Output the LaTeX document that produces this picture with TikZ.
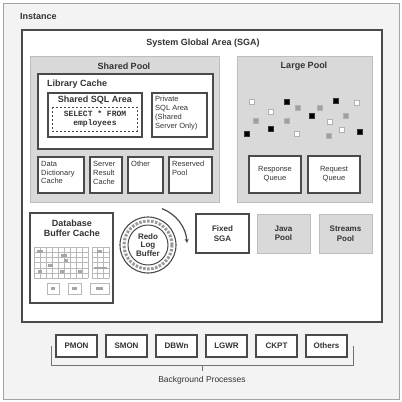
\documentclass[tikz,border=0pt]{standalone}
\usepackage{fontspec}
\setmainfont{Liberation Sans}
\setmonofont{Liberation Mono}
\usetikzlibrary{arrows.meta}

\definecolor{ink}{HTML}{333333}
\definecolor{frameline}{HTML}{4a4a4a}
\definecolor{poolfill}{HTML}{d9d9d9}
\definecolor{poolline}{HTML}{bdbdbd}
\definecolor{instfill}{HTML}{f3f3f3}
\definecolor{instline}{HTML}{a3a3a3}
\definecolor{gridline}{HTML}{b8b8b8}

\begin{document}
\begin{tikzpicture}[x=1pt,y=-1pt,
  area/.style={anchor=north west, inner sep=0pt, outer sep=0pt},
  box/.style={area, draw=frameline, line width=1.6pt, fill=white},
  poolbox/.style={area, draw=poolline, line width=1pt, fill=poolfill},
  ttl/.style={font=\fontsize{9}{10}\selectfont\bfseries, text=ink, inner sep=0pt, align=center},
  small/.style={font=\fontsize{7.5}{8.8}\selectfont, text=ink, inner sep=0pt, align=left},
  proc/.style={area, draw=frameline, line width=1.6pt, fill=white,
    minimum width=41pt, minimum height=22pt, anchor=north west,
    font=\fontsize{8}{9}\selectfont\bfseries, text=ink},
  sqw/.style={fill=white, draw=gray!60, line width=0.5pt},
  sqb/.style={fill=black, draw=black!80, line width=0.5pt},
  sqg/.style={fill=gray!75, draw=gray!60, line width=0.5pt}
]
\useasboundingbox (0,0) rectangle (402,402);
\fill[white] (0,0) rectangle (402,402);

% Instance frame
\node[area, draw=instline, line width=1pt, fill=instfill,
  minimum width=396pt, minimum height=396pt] (instance) at (3,3) {};
\node[ttl, anchor=west] (instlabel) at (20,16) {Instance};

% System Global Area
\node[area, draw=frameline, line width=2pt, fill=white,
  minimum width=360pt, minimum height=292pt] (sga) at (22,30) {};
\node[ttl] (sgalabel) at (203,43) {System Global Area (SGA)};

% Shared pool
\node[poolbox, minimum width=189pt, minimum height=146pt] (shared) at (30,56) {};
\node[ttl] (sharedlabel) at (124,66) {Shared Pool};

\node[box, line width=1.5pt, minimum width=175pt, minimum height=75pt] (libcache) at (38,74) {};
\node[ttl, anchor=west] (liblabel) at (47,84) {Library Cache};

\node[box, line width=1.5pt, minimum width=94pt, minimum height=44pt] (sqlarea) at (48,93) {};
\node[ttl] (sqllabel) at (95,100) {Shared SQL Area};
\draw[frameline, line width=0.8pt, dash pattern=on 2pt off 2pt]
  (52,107) rectangle (137,131);
\node[font=\fontsize{8}{9.5}\selectfont\ttfamily\bfseries, text=ink, align=center, inner sep=0pt]
  (sqltext) at (95,119) {SELECT * FROM\\employees};

\node[box, line width=1.5pt, minimum width=55pt, minimum height=44pt] (private) at (152,93) {};
\node[small, anchor=north west] (privlabel) at (155,96) {Private\\SQL Area\\(Shared\\Server Only)};

% Lower row of the shared pool
\node[box, line width=1.5pt, minimum width=46pt, minimum height=36pt] (dict) at (38,157) {};
\node[small, anchor=north west] at (41,161) {Data\\Dictionary\\Cache};
\node[box, line width=1.5pt, minimum width=32pt, minimum height=36pt] (result) at (90,157) {};
\node[small, anchor=north west] at (93,161) {Server\\Result\\Cache};
\node[box, line width=1.5pt, minimum width=35pt, minimum height=36pt] (other) at (128,157) {};
\node[small, anchor=north west] at (131,161) {Other};
\node[box, line width=1.5pt, minimum width=43pt, minimum height=36pt] (reserved) at (169,157) {};
\node[small, anchor=north west] at (172,161) {Reserved\\Pool};

% Large pool
\node[poolbox, minimum width=135pt, minimum height=146pt] (large) at (237,56) {};
\node[ttl] (largelabel) at (304,66) {Large Pool};
\foreach \px/\py/\st in {252/102/sqw, 287/102/sqb, 298/108/sqg, 271/112/sqw, 320/108/sqg,
  336/101/sqb, 357/103/sqw, 256/121/sqg, 287/121/sqg, 312/116/sqb, 346/116/sqg,
  330/122/sqw, 271/129/sqb, 342/130/sqw, 360/132/sqb, 247/134/sqb, 297/134/sqw, 329/136/sqg}
  \draw[\st] (\px-2.5,\py-2.5) rectangle (\px+2.5,\py+2.5);

\node[box, line width=1.5pt, minimum width=52pt, minimum height=37pt] (response) at (249,156) {};
\node[small, align=center] at (response.center) {Response\\Queue};
\node[box, line width=1.5pt, minimum width=52pt, minimum height=37pt] (request) at (308,156) {};
\node[small, align=center] at (request.center) {Request\\Queue};

% Database buffer cache
\node[box, line width=1.5pt, minimum width=83pt, minimum height=90pt] (buffer) at (30,213) {};
\node[ttl] (bufferlabel) at (72,228) {Database\\Buffer Cache};
\begin{scope}[gridline, line width=0.5pt]
  \foreach \gx in {34,40,46,52,58,64,70,76,82,88} \draw (\gx,247) -- (\gx,278);
  \foreach \gy in {247,252,257,262,268,273,278} \draw (34,\gy) -- (88,\gy);
  \foreach \gx in {92,97,103,109} \draw (\gx,247) -- (\gx,278);
  \foreach \gy in {247,252,257,262,268,273,278} \draw (92,\gy) -- (109,\gy);
  \draw (47,283) rectangle (59,294);
  \draw (68,283) rectangle (81,294);
  \draw (90,283) rectangle (109,294);
\end{scope}
\begin{scope}[gray!70]
  \fill (37,250) rectangle (43,253);
  \fill (61,254) rectangle (67,257);
  \fill (64,259) rectangle (68,262);
  \fill (48,264) rectangle (53,267);
  \fill (38,270) rectangle (42,273);
  \fill (60,270) rectangle (64,273);
  \fill (78,270) rectangle (82,273);
  \fill (97,250) rectangle (102,253);
  \fill (94,267) rectangle (107,269);
  \fill (51,287) rectangle (55,290);
  \fill (72,287) rectangle (77,290);
  \fill (96,287) rectangle (103,290);
\end{scope}

% Redo log buffer
\coordinate (redoc) at (148,245);
\node[circle, draw=frameline, line width=1.1pt, minimum size=56pt, inner sep=0pt] (redo) at (redoc) {};
\draw[frameline, line width=1pt] (redoc) circle[radius=20];
\draw[gray!80, line width=3pt, dash pattern=on 2.5pt off 1.5pt] (redoc) circle[radius=24];
\node[font=\fontsize{8}{8.8}\selectfont\bfseries, text=ink, align=center, inner sep=0pt]
  (redolabel) at (redoc) {Redo\\Log\\Buffer};
\draw[frameline, line width=1.2pt, -{Stealth[length=4pt,width=4pt]}]
  (redoc) ++(-69:39) arc[start angle=-69, end angle=-3, radius=39];

% Fixed SGA, Java pool, Streams pool
\node[box, line width=1.5pt, minimum width=53pt, minimum height=39pt] (fixed) at (196,214) {};
\node[ttl, font=\fontsize{8}{9.5}\selectfont\bfseries] at (fixed.center) {Fixed\\SGA};
\node[poolbox, minimum width=53pt, minimum height=39pt] (java) at (257,214) {};
\node[ttl, font=\fontsize{8}{9.5}\selectfont\bfseries] at (java.center) {Java\\Pool};
\node[poolbox, minimum width=53pt, minimum height=39pt] (streams) at (319,214) {};
\node[ttl, font=\fontsize{8}{9.5}\selectfont\bfseries] at (streams.center) {Streams\\Pool};

% Background processes
\node[proc] (pmon) at (56,335) {PMON};
\node[proc] (smon) at (106,335) {SMON};
\node[proc] (dbwn) at (156,335) {DBWn};
\node[proc] (lgwr) at (206,335) {LGWR};
\node[proc] (ckpt) at (256,335) {CKPT};
\node[proc] (others) at (306,335) {Others};

\coordinate (brl) at (51,346);
\coordinate (brr) at (353,346);
\coordinate (brm) at (202,365);
\draw[gray!90!black, line width=0.8pt] (brl) -- (brl |- brm) -- (brr |- brm) -- (brr);
\draw[gray!90!black, line width=0.8pt] (brm) -- ++(0,6) coordinate (brtip);
\node[font=\fontsize{8.5}{10}\selectfont, text=ink, anchor=north, inner sep=0pt]
  (bglabel) at (202,376) {Background Processes};
\end{tikzpicture}
\end{document}
